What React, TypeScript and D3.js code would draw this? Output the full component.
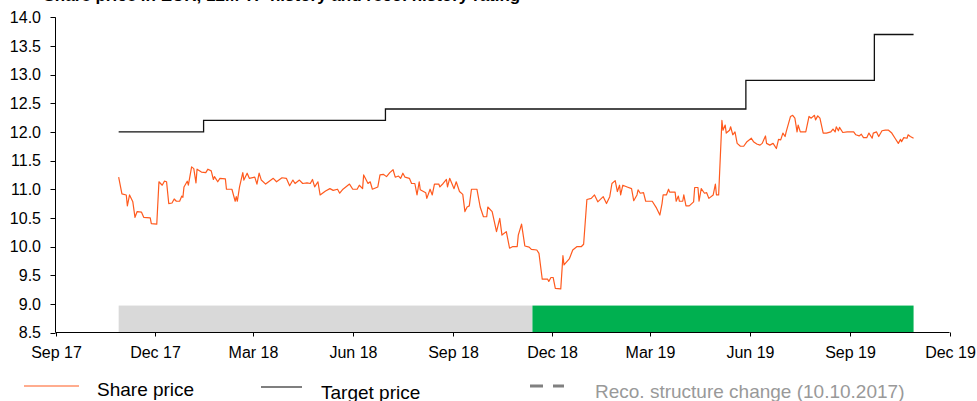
import React from "react";
import * as d3 from "d3";

const title = "Share price in EUR, 12M TP history and reco. history rating";
const yTicks = [8.5, 9.0, 9.5, 10.0, 10.5, 11.0, 11.5, 12.0, 12.5, 13.0, 13.5, 14.0];
const xDomain = ["2017-09-01", "2019-12-01"];
const xTickDates = ["2017-09-01", "2017-12-01", "2018-03-01", "2018-06-01", "2018-09-01", "2018-12-01", "2019-03-01", "2019-06-01", "2019-09-01", "2019-12-01"];

const sharePrice: [string, number][] = [
  ["2017-10-29", 11.21], ["2017-11-01", 10.92], ["2017-11-05", 10.9], ["2017-11-06", 10.71], ["2017-11-08", 10.9],
  ["2017-11-11", 10.78], ["2017-11-13", 10.51], ["2017-11-15", 10.61], ["2017-11-19", 10.6], ["2017-11-21", 10.51],
  ["2017-11-27", 10.5], ["2017-11-28", 10.4], ["2017-12-03", 10.39], ["2017-12-05", 11.13], ["2017-12-08", 11.07],
  ["2017-12-10", 11.14], ["2017-12-12", 11.13], ["2017-12-14", 10.75], ["2017-12-17", 10.76], ["2017-12-19", 10.83],
  ["2017-12-21", 10.79], ["2017-12-24", 10.79], ["2017-12-26", 10.88], ["2017-12-27", 10.86], ["2017-12-28", 11.04],
  ["2017-12-31", 11.14], ["2018-01-01", 11.07], ["2018-01-04", 11.39], ["2018-01-06", 11.36], ["2018-01-08", 11.11],
  ["2018-01-09", 11.35], ["2018-01-13", 11.3], ["2018-01-17", 11.29], ["2018-01-19", 11.35], ["2018-01-22", 11.32],
  ["2018-01-24", 11.17], ["2018-01-25", 11.22], ["2018-01-28", 11.13], ["2018-01-30", 11.19], ["2018-02-04", 11.18],
  ["2018-02-05", 11.0], ["2018-02-10", 11.0], ["2018-02-13", 10.79], ["2018-02-14", 10.87], ["2018-02-15", 10.79],
  ["2018-02-17", 11.04], ["2018-02-20", 11.29], ["2018-02-21", 11.16], ["2018-02-24", 11.28], ["2018-02-26", 11.19],
  ["2018-03-03", 11.21], ["2018-03-05", 11.09], ["2018-03-07", 11.28], ["2018-03-09", 11.16], ["2018-03-13", 11.09],
  ["2018-03-20", 11.19], ["2018-03-23", 11.13], ["2018-03-28", 11.2], ["2018-04-01", 11.19], ["2018-04-04", 11.06],
  ["2018-04-07", 11.16], ["2018-04-09", 11.1], ["2018-04-13", 11.16], ["2018-04-16", 11.1], ["2018-04-20", 11.11],
  ["2018-04-23", 11.1], ["2018-04-25", 11.17], ["2018-04-27", 11.04], ["2018-04-30", 11.13], ["2018-05-02", 10.9],
  ["2018-05-07", 10.97], ["2018-05-11", 11.01], ["2018-05-14", 10.98], ["2018-05-18", 11.0], ["2018-05-20", 10.93],
  ["2018-05-23", 11.0], ["2018-05-29", 11.09], ["2018-06-01", 11.0], ["2018-06-05", 11.0], ["2018-06-07", 11.07],
  ["2018-06-10", 11.01], ["2018-06-11", 11.25], ["2018-06-15", 11.1], ["2018-06-17", 11.13], ["2018-06-19", 11.0],
  ["2018-06-24", 11.04], ["2018-06-26", 11.25], ["2018-06-29", 11.26], ["2018-07-02", 11.22], ["2018-07-05", 11.29],
  ["2018-07-08", 11.34], ["2018-07-10", 11.21], ["2018-07-13", 11.23], ["2018-07-15", 11.19], ["2018-07-17", 11.28],
  ["2018-07-19", 11.21], ["2018-07-23", 11.19], ["2018-07-25", 11.1], ["2018-07-28", 11.1], ["2018-07-30", 10.9],
  ["2018-08-01", 11.13], ["2018-08-02", 10.99], ["2018-08-07", 10.94], ["2018-08-08", 10.84], ["2018-08-11", 11.0],
  ["2018-08-13", 10.9], ["2018-08-15", 11.09], ["2018-08-19", 11.09], ["2018-08-20", 11.04], ["2018-08-23", 11.1],
  ["2018-08-26", 11.17], ["2018-08-27", 11.04], ["2018-08-29", 11.19], ["2018-08-31", 11.1], ["2018-09-02", 11.01],
  ["2018-09-04", 11.13], ["2018-09-07", 10.96], ["2018-09-10", 10.91], ["2018-09-12", 10.61], ["2018-09-14", 10.69],
  ["2018-09-16", 10.71], ["2018-09-18", 11.0], ["2018-09-23", 11.0], ["2018-09-26", 10.69], ["2018-09-29", 10.52],
  ["2018-10-02", 10.52], ["2018-10-03", 10.69], ["2018-10-07", 10.61], ["2018-10-11", 10.26], ["2018-10-14", 10.49],
  ["2018-10-16", 10.2], ["2018-10-20", 10.26], ["2018-10-23", 9.97], ["2018-10-26", 10.0], ["2018-10-30", 10.0],
  ["2018-10-31", 10.2], ["2018-11-03", 10.39], ["2018-11-06", 10.01], ["2018-11-10", 9.99], ["2018-11-12", 9.95],
  ["2018-11-17", 9.94], ["2018-11-19", 9.88], ["2018-11-22", 9.43], ["2018-11-27", 9.43], ["2018-11-28", 9.39],
  ["2018-11-30", 9.46], ["2018-12-02", 9.46], ["2018-12-04", 9.27], ["2018-12-09", 9.26], ["2018-12-11", 9.84],
  ["2018-12-12", 9.68], ["2018-12-17", 9.79], ["2018-12-20", 9.94], ["2018-12-24", 10.0], ["2018-12-28", 10.0],
  ["2018-12-30", 10.04], ["2019-01-02", 10.82], ["2019-01-06", 10.84], ["2019-01-09", 10.9], ["2019-01-12", 10.78],
  ["2019-01-17", 10.87], ["2019-01-20", 10.75], ["2019-01-23", 10.87], ["2019-01-25", 11.1], ["2019-01-28", 11.15],
  ["2019-01-30", 10.96], ["2019-02-01", 11.07], ["2019-02-02", 10.9], ["2019-02-04", 11.07], ["2019-02-08", 11.04],
  ["2019-02-12", 11.01], ["2019-02-14", 10.8], ["2019-02-17", 10.9], ["2019-02-18", 10.99], ["2019-02-20", 10.93],
  ["2019-02-23", 10.94], ["2019-02-25", 10.79], ["2019-03-03", 10.79], ["2019-03-07", 10.67], ["2019-03-10", 10.55],
  ["2019-03-12", 10.75], ["2019-03-13", 10.9], ["2019-03-16", 10.9], ["2019-03-18", 11.0], ["2019-03-19", 10.95],
  ["2019-03-24", 10.95], ["2019-03-25", 10.79], ["2019-03-27", 10.88], ["2019-03-28", 10.79], ["2019-03-31", 10.79],
  ["2019-04-01", 10.9], ["2019-04-03", 10.71], ["2019-04-06", 10.71], ["2019-04-10", 10.78], ["2019-04-11", 11.03],
  ["2019-04-14", 11.03], ["2019-04-15", 10.79], ["2019-04-17", 11.01], ["2019-04-20", 10.93], ["2019-04-22", 10.94],
  ["2019-04-24", 10.84], ["2019-04-28", 10.9], ["2019-04-30", 11.09], ["2019-05-01", 10.9], ["2019-05-03", 10.9],
  ["2019-05-06", 12.2], ["2019-05-07", 12.03], ["2019-05-09", 12.12], ["2019-05-10", 11.98], ["2019-05-13", 12.03],
  ["2019-05-14", 12.09], ["2019-05-16", 11.95], ["2019-05-18", 12.0], ["2019-05-20", 11.8], ["2019-05-23", 11.75],
  ["2019-05-26", 11.75], ["2019-05-29", 11.83], ["2019-06-02", 11.89], ["2019-06-04", 11.83], ["2019-06-07", 11.79],
  ["2019-06-10", 11.77], ["2019-06-12", 11.8], ["2019-06-15", 11.93], ["2019-06-16", 11.8], ["2019-06-19", 11.77],
  ["2019-06-22", 11.8], ["2019-06-25", 11.71], ["2019-06-27", 11.87], ["2019-06-29", 11.86], ["2019-07-01", 11.98],
  ["2019-07-03", 11.92], ["2019-07-04", 12.0], ["2019-07-08", 12.27], ["2019-07-10", 12.29], ["2019-07-12", 12.24],
  ["2019-07-14", 12.0], ["2019-07-15", 12.12], ["2019-07-17", 12.0], ["2019-07-22", 12.0], ["2019-07-25", 12.27],
  ["2019-07-27", 12.24], ["2019-07-30", 12.29], ["2019-07-31", 12.21], ["2019-08-02", 12.28], ["2019-08-04", 12.24],
  ["2019-08-07", 11.98], ["2019-08-10", 11.98], ["2019-08-14", 12.0], ["2019-08-16", 12.05], ["2019-08-18", 12.0],
  ["2019-08-19", 12.09], ["2019-08-21", 12.02], ["2019-08-22", 12.08], ["2019-08-25", 11.99], ["2019-08-29", 12.0],
  ["2019-09-04", 12.0], ["2019-09-06", 11.95], ["2019-09-09", 11.93], ["2019-09-11", 11.96], ["2019-09-13", 11.9],
  ["2019-09-16", 11.9], ["2019-09-18", 11.98], ["2019-09-21", 11.89], ["2019-09-22", 11.98], ["2019-09-25", 12.0],
  ["2019-09-27", 11.92], ["2019-09-30", 12.02], ["2019-10-03", 12.03], ["2019-10-06", 12.03], ["2019-10-09", 11.98],
  ["2019-10-12", 11.89], ["2019-10-15", 11.8], ["2019-10-17", 11.87], ["2019-10-18", 11.83], ["2019-10-20", 11.9],
  ["2019-10-23", 11.89], ["2019-10-24", 11.95], ["2019-10-26", 11.92], ["2019-10-29", 11.89],
];

const targetPrice: [string, number][] = [
  ["2017-10-29", 12.0], ["2018-01-15", 12.2], ["2018-07-01", 12.4], ["2019-05-28", 12.9], ["2019-09-23", 13.7], ["2019-10-29", 13.7],
];

const ratingPeriods: [string, string, string][] = [
  ["2017-10-29", "2018-11-13", "neutral"],
  ["2018-11-13", "2019-10-29", "buy"],
];
const ratingColors: Record<string, string> = { neutral: "#d9d9d9", buy: "#00b050" };
const ratingBandTop = 8.97;

const legendLabels = ["Share price", "Target price", "Reco. structure change (10.10.2017)"];

const W = 977;
const H = 401;
const FONT = "'Liberation Sans', Arial, Helvetica, sans-serif";
const parse = d3.timeParse("%Y-%m-%d");
const fmt = d3.timeFormat("%b %y");

export default function App() {
  const x = d3.scaleTime().domain(xDomain.map((d) => parse(d) as Date)).range([55.5, 949.5]);
  const y = d3.scaleLinear().domain([8.5, 14]).range([332.5, 17.3]);

  const priceLine = d3
    .line<[string, number]>()
    .x((d) => x(parse(d[0]) as Date))
    .y((d) => y(d[1]));
  const tpLine = d3
    .line<[string, number]>()
    .curve(d3.curveStepAfter)
    .x((d) => x(parse(d[0]) as Date))
    .y((d) => y(d[1]));

  const axisColor = "#000";
  const x0 = x.range()[0];
  const x1 = x.range()[1];
  const yBottom = y(8.5);
  const yTop = y(14);

  return (
    <svg width={W} height={H} style={{ position: "absolute", left: 0, top: 0, background: "#fff" }} fontFamily={FONT}>
      <text x={43.5} y={1} fontSize={17} fontWeight="bold" fill="#000">
        {title}
      </text>

      {ratingPeriods.map(([s, e, r]) => {
        const xs = x(parse(s) as Date);
        const xe = x(parse(e) as Date);
        return (
          <rect key={s} x={xs} y={y(ratingBandTop)} width={xe - xs} height={y(8.5) - y(ratingBandTop)} fill={ratingColors[r]} />
        );
      })}

      {/* y axis */}
      <line x1={x0} x2={x0} y1={yTop} y2={yBottom} stroke={axisColor} strokeWidth={1} />
      {yTicks.map((t) => (
        <g key={t}>
          <line x1={x0 - 5} x2={x0} y1={Math.round(y(t)) + 0.5} y2={Math.round(y(t)) + 0.5} stroke={axisColor} />
          <text x={41} y={y(t)} dy="0.36em" textAnchor="end" fontSize={16} fill="#000">
            {t.toFixed(1)}
          </text>
        </g>
      ))}

      {/* x axis */}
      <line x1={x0} x2={x1} y1={yBottom} y2={yBottom} stroke={axisColor} strokeWidth={1} />
      {xTickDates.map((d) => {
        const xv = Math.round(x(parse(d) as Date)) + 0.5;
        return (
          <g key={d}>
            <line x1={xv} x2={xv} y1={yBottom} y2={yBottom + 4} stroke={axisColor} />
            <text x={xv} y={358} textAnchor="middle" fontSize={16} fill="#000">
              {fmt(parse(d) as Date)}
            </text>
          </g>
        );
      })}

      <path d={tpLine(targetPrice) || ""} fill="none" stroke="#111" strokeWidth={1.3} />
      <path d={priceLine(sharePrice) || ""} fill="none" stroke="#ff5a1e" strokeWidth={1.2} strokeLinejoin="round" />

      {/* legend */}
      <line x1={24} x2={79} y1={386} y2={386} stroke="#ff5a1e" strokeWidth={1.2} />
      <text x={97} y={396} fontSize={19} fill="#000">{legendLabels[0]}</text>
      <line x1={261} x2={302} y1={387} y2={387} stroke="#000" strokeWidth={1.2} />
      <text x={321} y={399} fontSize={19} fill="#000">{legendLabels[1]}</text>
      <line x1={530} x2={564} y1={386} y2={386} stroke="#808080" strokeWidth={3} strokeDasharray="13 10" />
      <text x={595} y={398} fontSize={19} fill="#999">{legendLabels[2]}</text>
    </svg>
  );
}
